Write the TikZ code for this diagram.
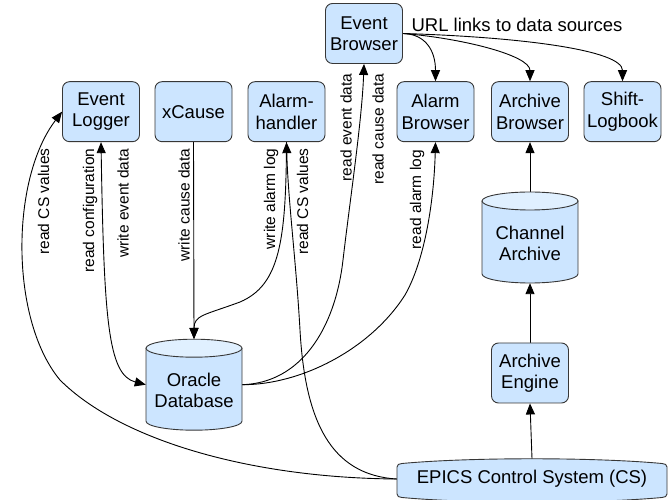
\documentclass[tikz,border=0pt]{standalone}
\usepackage{fontspec}
\setmainfont{Liberation Sans}
\usetikzlibrary{arrows.meta}

\definecolor{boxfill}{RGB}{204,229,255}
\definecolor{boxtop}{RGB}{224,240,255}
\definecolor{edge}{RGB}{55,55,55}

\pgfdeclarelayer{wires}
\pgfsetlayers{wires,main}

% database drum: centre x, centre y (96 x 91, end ellipses of radius 9)
\newcommand{\drumbody}[2]{%
  \fill[boxfill] ({#1-48},{#2+36.5}) -- ({#1-48},{#2-36.5})
    arc[start angle=180,end angle=360,x radius=48,y radius=9]
    -- ({#1+48},{#2+36.5}) -- cycle;
  \draw[edge,line width=0.9pt] ({#1-48},{#2+36.5}) -- ({#1-48},{#2-36.5})
    arc[start angle=180,end angle=360,x radius=48,y radius=9]
    -- ({#1+48},{#2+36.5});
  \filldraw[fill=boxtop,draw=edge,line width=0.9pt]
    (#1,{#2+36.5}) ellipse[x radius=48,y radius=9];
}

\begin{document}
\begin{tikzpicture}[x=1pt,y=1pt,
  >={Triangle[length=11pt,width=9pt]},
  box/.style={draw=edge, fill=boxfill, rounded corners=7pt, line width=0.9pt,
    minimum width=77pt, minimum height=60pt, inner sep=1pt, align=center,
    font=\fontsize{18.5}{21.5}\selectfont},
  drum/.style={minimum width=96pt, minimum height=91pt, inner sep=0pt},
  drumtext/.style={align=center, inner sep=0pt, font=\fontsize{18.5}{21.5}\selectfont},
  wire/.style={line width=0.9pt, black},
  lbl/.style={rotate=90, anchor=east, inner sep=0pt,
    font=\fontsize{15.5}{18}\selectfont}
]
\useasboundingbox (0,0) rectangle (669,500);

% application boxes
\node[box] (logger) at (101,388.3) {Event\\Logger};
\node[box] (xcause) at (193.5,388.3) {xCause};
\node[box] (alarmh) at (286.5,388.3) {Alarm-\\handler};
\node[box] (evb) at (364,466.5) {Event\\Browser};
\node[box] (alarmb) at (435.5,388.3) {Alarm\\Browser};
\node[box] (archb) at (530,388.3) {Archive\\Browser};
\node[box] (shift) at (622.5,388.3) {Shift-\\Logbook};
\node[box] (engine) at (530,127) {Archive\\Engine};

% databases
\drumbody{194}{115.3}
\node[drum] (oracle) at (194,115.3) {};
\node[drumtext] at (194,109.5) {Oracle\\Database};
\drumbody{530}{262.5}
\node[drum] (chan) at (530,262.5) {};
\node[drumtext] at (530,256.5) {Channel\\Archive};

% control system bar
\draw[edge, fill=boxfill, line width=0.9pt]
  (397,6) -- (397,33) .. controls (397,35.5) and (399,36.2) .. (402,36.5)
  .. controls (470,42.8) and (594,42.8) .. (662,36.5)
  .. controls (665,36.2) and (667,35.5) .. (667,33) -- (667,6)
  .. controls (667,3.5) and (665,2.8) .. (662,2.5)
  .. controls (594,-3.8) and (470,-3.8) .. (402,2.5)
  .. controls (399,2.8) and (397,3.5) .. (397,6) -- cycle;
\node[minimum width=270pt, minimum height=40pt, inner sep=0pt,
  font=\fontsize{18.5}{21.5}\selectfont] (epics) at (532,21)
  {EPICS Control System (CS)};

\node[font=\fontsize{18.5}{21.5}\selectfont, inner sep=0pt] (url) at (517,475)
  {URL links to data sources};

% connectors
\begin{pgfonlayer}{wires}
\draw[wire,->] (epics.west) .. controls (250,22) and (120,60) .. (60,120)
  .. controls (10,180) and (10,320) .. (logger.west);
\draw[wire,<->] (logger.south) .. controls (104,180) and (108,125) .. (oracle.west);
\draw[wire,->] (xcause.south) -- (oracle.north);
\draw[wire,->] (alarmh.south) .. controls (286,260) and (280,215) .. (240,198)
  .. controls (205,185) and (194,185) .. (oracle.north);
\draw[wire,->] (epics.west) .. controls (330,25) and (305,80) .. (300,170)
  .. controls (296,240) and (288,300) .. (alarmh.south);
\draw[wire,->] (oracle.east) .. controls (300,117) and (335,170) .. (343,240)
  .. controls (350,300) and (362,380) .. (evb.south);
\draw[wire,->] (oracle.east) .. controls (300,115) and (370,150) .. (405,205)
  .. controls (425,240) and (434,300) .. (alarmb.south);
\draw[wire,->] (evb.east) .. controls (425,466) and (435.5,450) .. (alarmb.north);
\draw[wire,->] (evb.east) .. controls (460,462) and (530,445) .. (archb.north);
\draw[wire,->] (evb.east) .. controls (520,463) and (622.5,450) .. (shift.north);
\draw[wire,->] (chan.north) -- (archb.south);
\draw[wire,->] (engine.north) -- (chan.south);
\draw[wire,->] (epics.north) -- (engine.south);
\end{pgfonlayer}

% connector labels
\node[lbl] at (43.5,351.7) {read CS values};
\node[lbl] at (90,351.7) {read configuration};
\node[lbl] at (123,351.7) {write event data};
\node[lbl] at (184,351.7) {write cause data};
\node[lbl] at (271,351.7) {write alarm log};
\node[lbl] at (302.5,351.7) {read CS values};
\node[lbl] at (346,426.7) {read event data};
\node[lbl] at (378,426.7) {read cause data};
\node[lbl] at (417,350) {read alarm log};
\end{tikzpicture}
\end{document}
